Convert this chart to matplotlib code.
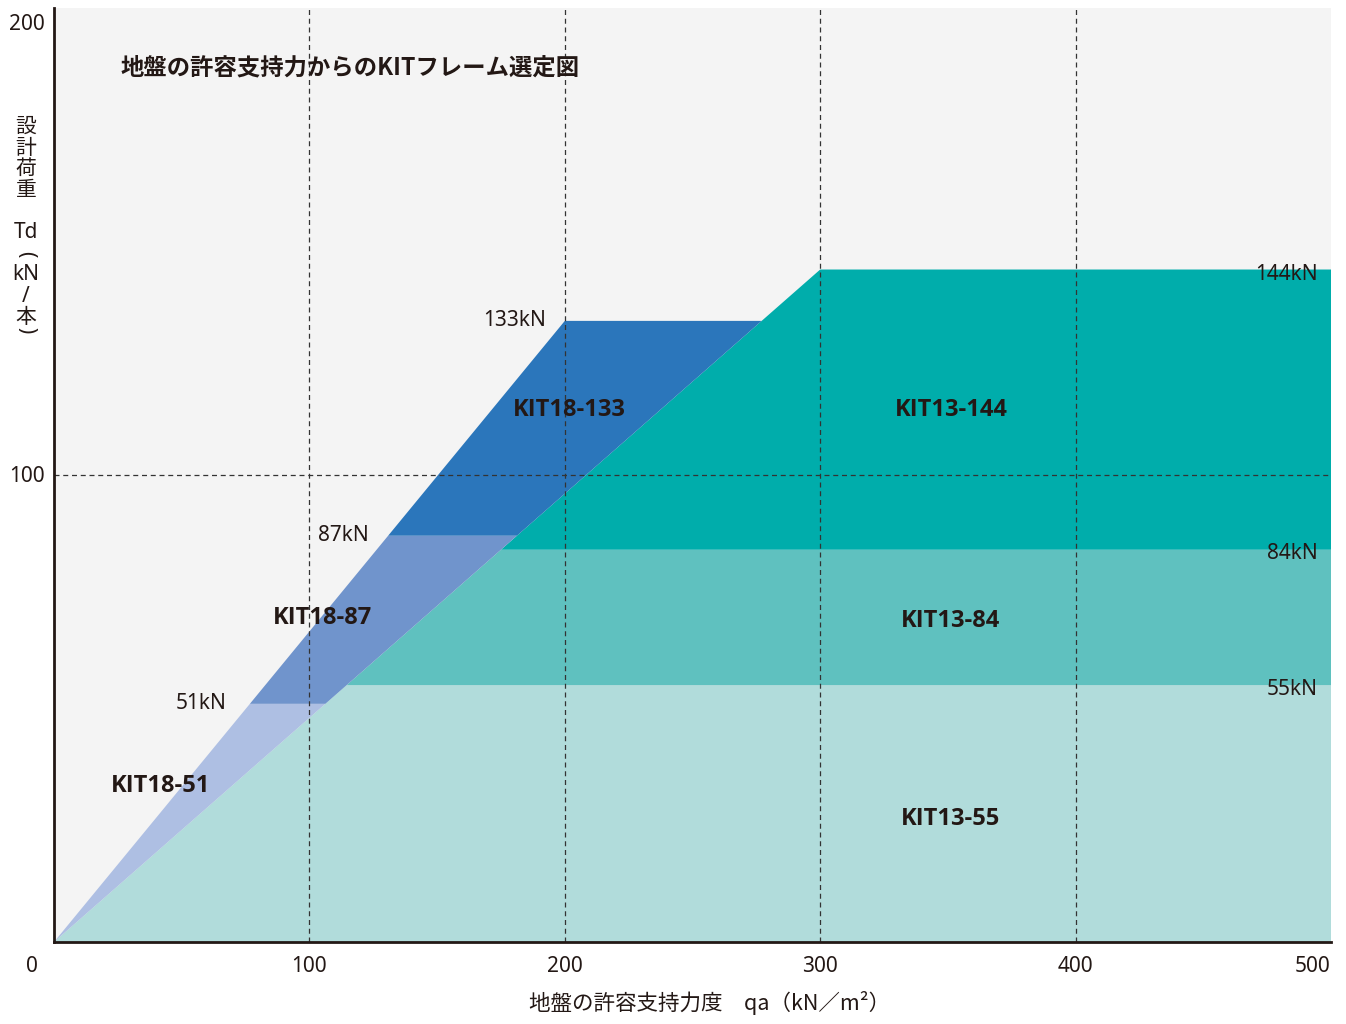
import matplotlib
matplotlib.use('agg')
import matplotlib.pyplot as plt
from matplotlib.patches import Polygon

plt.rcParams['font.family'] = ['Noto Sans CJK JP', 'DejaVu Sans']

# KIT18 series: caps (kN) and the point its line passes through
kit18_names = ["KIT18-51", "KIT18-87", "KIT18-133"]
kit18_caps = [51, 87, 133]
kit18_colors = ["#aebfe3", "#7094cc", "#2b76bb"]
kit18_knee = (200, 133)

# KIT13 series
kit13_names = ["KIT13-55", "KIT13-84", "KIT13-144"]
kit13_caps = [55, 84, 144]
kit13_colors = ["#b1dcdb", "#5fc1bf", "#00adab"]
kit13_knee = (300, 144)

x_max = 500
y_max = 200
x_ticks = [100, 200, 300, 400, 500]
y_ticks = [100, 200]

s18 = kit18_knee[1] / kit18_knee[0]
s13 = kit13_knee[1] / kit13_knee[0]

fig = plt.figure(figsize=(13.46, 10.24), dpi=100)
ax = fig.add_axes([54/1346, 82/1024, (1331-54)/1346, (942-8)/1024])
ax.set_facecolor("#f4f4f4")
ax.set_xlim(0, x_max)
ax.set_ylim(0, y_max)

# KIT13 bands (right of the KIT13 line)
lo = 0
for name, hi, c in zip(kit13_names, kit13_caps, kit13_colors):
    pts = [(lo/s13, lo), (hi/s13, hi), (x_max, hi), (x_max, lo)]
    ax.add_patch(Polygon(pts, closed=True, facecolor=c, edgecolor='none', zorder=1))
    lo = hi

# KIT18 bands (between KIT18 line and KIT13 line)
lo = 0
for name, hi, c in zip(kit18_names, kit18_caps, kit18_colors):
    pts = [(lo/s18, lo), (hi/s18, hi), (hi/s13, hi), (lo/s13, lo)]
    ax.add_patch(Polygon(pts, closed=True, facecolor=c, edgecolor='none', zorder=1))
    lo = hi

# dashed grid
for xv in x_ticks[:-1]:
    ax.axvline(xv, color="#333333", lw=0.9, ls=(0, (4, 3)), zorder=2)
ax.axhline(100, color="#333333", lw=0.9, ls=(0, (4, 3)), zorder=2)

for sp in ['top', 'right']:
    ax.spines[sp].set_visible(False)
for sp in ['left', 'bottom']:
    ax.spines[sp].set_linewidth(2)
    ax.spines[sp].set_color("#231815")
    ax.spines[sp].set_zorder(5)
ax.set_xticks([])
ax.set_yticks([])

txt = "#231815"
num_font = ['Noto Sans', 'DejaVu Sans']
lab_font = ['Open Sans', 'Noto Sans', 'DejaVu Sans']

def fx(px):
    return px / 1346
def fy(py):
    return 1 - py / 1024

# tick labels
fig.text(fx(32), fy(967), "0", ha='center', va='center', fontsize=15, color=txt, family=num_font)
for v in x_ticks:
    px = 54 + v / x_max * (1331 - 54)
    if v == x_max:
        px -= 18
    fig.text(fx(px), fy(967), str(v), ha='center', va='center', fontsize=15, color=txt, family=num_font)
for v in y_ticks:
    py = 942 - v / y_max * (942 - 8)
    if v == y_max:
        py += 16
    fig.text(fx(27), fy(py + 1), str(v), ha='center', va='center', fontsize=15, color=txt, family=num_font)

# x label
fig.text(fx(710), fy(1003), "地盤の許容支持力度　qa（kN／m²）", ha='center', va='center',
         fontsize=15.5, color=txt)

# vertical y label
ylab = [("設", 127, 0), ("計", 148, 0), ("荷", 169, 0), ("重", 190, 0), ("Td", 232, 0),
        ("(", 254, -90), ("kN", 274, 0), ("/", 296, 0), ("本", 317, 0), (")", 330, -90)]
for ch, py, rot in ylab:
    fam = ['Noto Sans CJK JP'] if ch in "設計荷重本" else num_font
    fig.text(fx(26), fy(py), ch, ha='center', va='center', fontsize=15, color=txt,
             rotation=rot, family=fam)

# title
ax.text(26, 187.2, "地盤の許容支持力からのKITフレーム選定図", ha='left', va='center',
        fontsize=16.8, fontweight='bold', color=txt, zorder=6)

# cap labels
ax.text(kit18_caps[2]/s18 - 7.5, kit18_caps[2], "133kN", ha='right', va='center', fontsize=15, color=txt, family=num_font, zorder=6)
ax.text(kit18_caps[1]/s18 - 7.5, kit18_caps[1], "87kN", ha='right', va='center', fontsize=15, color=txt, family=num_font, zorder=6)
ax.text(kit18_caps[0]/s18 - 9, kit18_caps[0], "51kN", ha='right', va='center', fontsize=15, color=txt, family=num_font, zorder=6)
for cap, dy in zip(kit13_caps, [-0.9, -0.9, -1.1]):
    ax.text(494.8, cap + dy, "%dkN" % cap, ha='right', va='center', fontsize=15, color=txt, family=num_font, zorder=6)

# band names
pos18 = [(41.9, 33.4), (105.3, 69.4), (201.6, 113.9)]
pos13 = [(351.2, 26.3), (351.2, 68.7), (351.2, 113.9)]
for name, (x, y) in zip(kit18_names, pos18):
    ax.text(x, y, name, ha='center', va='center', fontsize=17, fontweight='bold', color=txt, family=lab_font, zorder=6)
for name, (x, y) in zip(kit13_names, pos13):
    ax.text(x, y, name, ha='center', va='center', fontsize=17, fontweight='bold', color=txt, family=lab_font, zorder=6)

fig.savefig("out.png", dpi=100, facecolor="white")
